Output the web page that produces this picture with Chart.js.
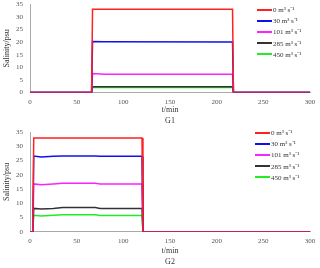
<!DOCTYPE html>
<html>
<head>
<meta charset="utf-8">
<script src="https://cdn.jsdelivr.net/npm/chart.js@4/dist/chart.umd.min.js"></script>
<style>
  body { margin: 0; background: #fff; font-family: "Liberation Serif", serif; }
  canvas { position: absolute; left: 0; }
  .legend { position: absolute; font-size: 7px; color: #333; }
  .legend div { height: 11.2px; display: flex; align-items: center; white-space: nowrap; }
  .legend span.ln { display: inline-block; width: 15px; height: 2px; margin-right: 1px; }
  .cap { position: absolute; left: 0; width: 340px; text-align: center; font-size: 8px; line-height: 9px; color: #333; }
</style>
</head>
<body>
<canvas id="c1" width="320" height="128" style="top:0"></canvas>
<canvas id="c2" width="320" height="140" style="top:128px"></canvas>
<div class="legend" id="l1" style="top:4px;left:257px"></div>
<div class="legend" id="l2" style="top:127px;left:255px"></div>
<div class="cap" style="top:105px">t/min</div>
<div class="cap" style="top:116px">G1</div>
<div class="cap" style="top:246px">t/min</div>
<div class="cap" style="top:257px">G2</div>
<script>
// etiquetas de la leyenda y colores
const etiquetas = ["0 m³ s⁻¹", "30 m³ s⁻¹", "101 m³ s⁻¹", "285 m³ s⁻¹", "450 m³ s⁻¹"];
const colores = ["#ff2020", "#1010ee", "#ff20ff", "#333333", "#20ee20"];
const ticksY = [0, 5, 10, 15, 20, 25, 30, 35];

// G1: tiempos (min) y salinidad
const tiempoG1 = [0, 66, 67, 80, 217, 218, 300];
const g1Q0 = [0, 0, 33, 33, 33, 0, 0];
const g1Q30 = [0, 0, 20.2, 20.1, 20, 0, 0];
const g1Q101 = [0, 0, 7.5, 7.2, 7.2, 0, 0];
const g1Q285 = [0, 0, 2.3, 2.3, 2.3, 0, 0];
const g1Q450 = [0, 0, 2.0, 2.0, 2.0, 0, 0];

// G2
const tiempoG2 = [0, 3, 4, 12, 25, 35, 70, 75, 120, 121, 300];
const g2Q0 = [0, 0, 33, 33, 33, 33, 33, 33, 33, 0, 0];
const g2Q30 = [0, 0, 26.6, 26.3, 26.5, 26.6, 26.6, 26.5, 26.5, 0, 0];
const g2Q101 = [0, 0, 16.8, 16.5, 16.8, 17, 17, 16.8, 16.8, 0, 0];
const g2Q285 = [0, 0, 8.2, 8.0, 8.2, 8.5, 8.5, 8.2, 8.2, 0, 0];
const g2Q450 = [0, 0, 5.8, 5.5, 5.8, 6.0, 6.0, 5.7, 5.7, 0, 0];

const juntar = (t, v) => t.map((x, i) => ({ x: x, y: v[i] }));

// crea el grafico y despues corrige el padding para que el area quede donde quiero
const hacerGrafico = (id, tiempos, series, arriba, abajo) => {
  const datasets = series.map((s, i) => ({
    label: etiquetas[i],
    data: juntar(tiempos, s),
    borderColor: colores[i],
    borderWidth: 1.5,
    pointRadius: 0,
    showLine: true,
    tension: 0,
  }));
  const grafico = new Chart(document.getElementById(id), {
    type: "scatter",
    data: { datasets },
    options: {
      responsive: false,
      animation: false,
      layout: { padding: { left: 0, right: 10, top: 0, bottom: 0 } },
      plugins: { legend: { display: false }, tooltip: { enabled: false } },
      scales: {
        x: {
          type: "linear", min: 0, max: 300,
          ticks: { stepSize: 50, autoSkip: false, font: { family: "Liberation Serif", size: 7 }, color: "#555", padding: 0, maxRotation: 0 },
          grid: { display: false, drawTicks: true, tickLength: 5 },
          border: { display: true, color: "#aaa" },
        },
        y: {
          min: 0, max: 35,
          afterBuildTicks: (s) => { s.ticks = ticksY.map((v) => ({ value: v })); },
          ticks: { autoSkip: false, font: { family: "Liberation Serif", size: 7 }, color: "#555", padding: 0 },
          grid: { display: false, drawTicks: true, tickLength: 7 },
          border: { display: true, color: "#aaa" },
          title: { display: true, text: "Salinity/psu", font: { family: "Liberation Serif", size: 8 }, color: "#333", padding: { top: 2, bottom: 0 } },
          afterFit: (s) => { s.width = 30; },
        },
      },
    },
  });
  const area = grafico.chartArea;
  grafico.options.layout.padding = {
    left: 0,
    right: 10,
    top: Math.max(0, arriba - area.top),
    bottom: Math.max(0, area.bottom - abajo),
  };
  grafico.update();
  return grafico;
};

const hacerLeyenda = (id) => {
  const caja = document.getElementById(id);
  etiquetas.forEach((e, i) => {
    const fila = document.createElement("div");
    fila.innerHTML = `<span class="ln" style="background:${colores[i]}"></span>${e}`;
    caja.appendChild(fila);
  });
};

hacerGrafico("c1", tiempoG1, [g1Q0, g1Q30, g1Q101, g1Q285, g1Q450], 6, 92.5);
hacerGrafico("c2", tiempoG2, [g2Q0, g2Q30, g2Q101, g2Q285, g2Q450], 7, 103.7);
hacerLeyenda("l1");
hacerLeyenda("l2");
</script>
</body>
</html>
